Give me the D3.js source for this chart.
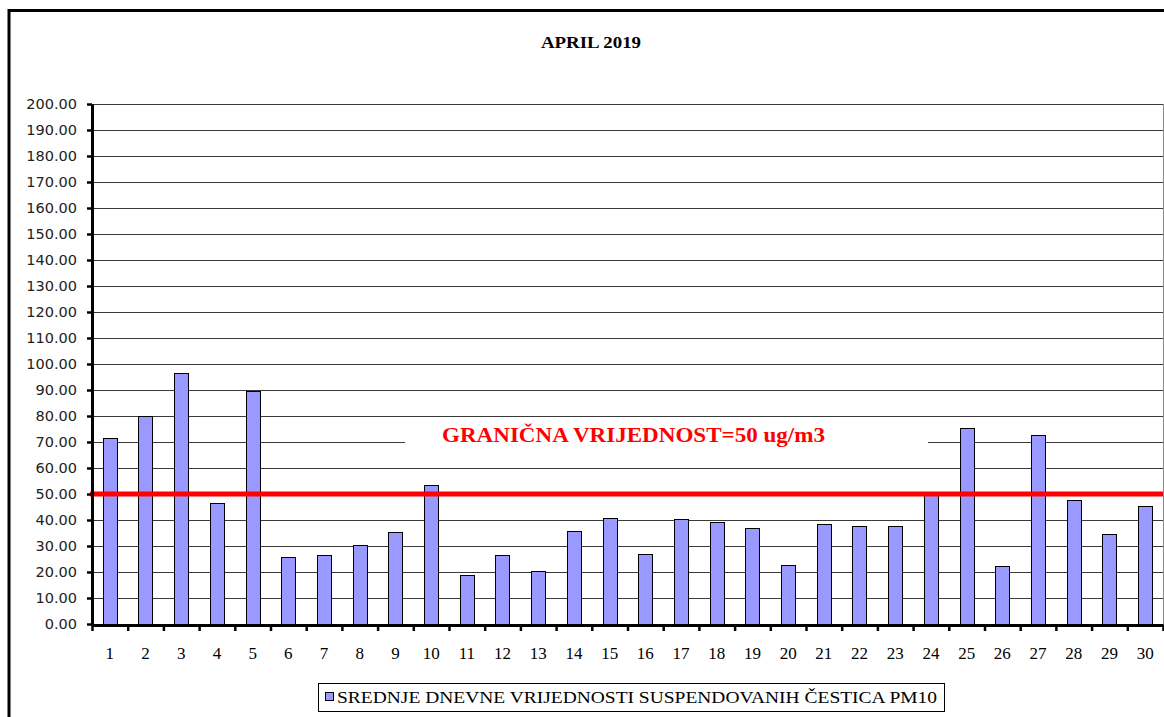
<!DOCTYPE html>
<html>
<head>
<meta charset="utf-8">
<script src="https://cdn.jsdelivr.net/npm/d3@7"></script>
<style>
  body { margin: 0; background: #fff; }
  svg { display: block; }
</style>
</head>
<body>
<div id="main"></div>
<script>
// data
var days = d3.range(1, 31).map(String);
var pm10 = [71.6, 80.0, 96.6, 46.4, 89.5, 25.6, 26.4, 30.2, 35.3, 53.4,
            19.0, 26.4, 20.4, 35.8, 40.8, 26.9, 40.3, 39.2, 37.1, 22.7,
            38.6, 37.6, 37.6, 49.8, 75.2, 22.3, 72.5, 47.8, 34.5, 45.5];
var yTicks = d3.range(0, 201, 10);
var limitValue = 50;
var titleText = "APRIL 2019";
var limitText = "GRANIČNA VRIJEDNOST=50 ug/m3";
var legendText = "SREDNJE DNEVNE VRIJEDNOSTI SUSPENDOVANIH ČESTICA PM10";

var width = 1164, height = 717;
var plot = {left: 92, right: 1163, top: 104, bottom: 624};
var serif = "'Liberation Serif', 'Times New Roman', serif";

var svg = d3.select("#main").append("svg")
    .attr("width", width)
    .attr("height", height);

// outer frame (only the left and top edges are visible)
svg.append("line").attr("x1", 9).attr("x2", 9).attr("y1", 9).attr("y2", height)
    .attr("stroke", "#000").attr("stroke-width", 3);
svg.append("line").attr("x1", 8).attr("x2", width).attr("y1", 10.5).attr("y2", 10.5)
    .attr("stroke", "#000").attr("stroke-width", 3);

svg.append("text")
    .attr("x", 591).attr("y", 48)
    .attr("text-anchor", "middle")
    .style("font-family", serif)
    .style("font-weight", "bold")
    .style("font-size", "17px")
    .attr("textLength", 100)
    .attr("lengthAdjust", "spacingAndGlyphs")
    .text(titleText);

var y = d3.scaleLinear().domain([0, 200]).range([plot.bottom, plot.top]);
var x = d3.scaleBand().domain(days).range([plot.left, plot.right])
    .paddingInner(0.6).paddingOuter(0.3);
var xEdge = d3.scaleLinear().domain([0, days.length]).range([plot.left, plot.right]);

// plot area border
svg.append("rect")
    .attr("x", plot.left + 0.5).attr("y", plot.top + 0.5)
    .attr("width", plot.right - plot.left).attr("height", plot.bottom - plot.top)
    .attr("fill", "none").attr("stroke", "#888");

// gridlines
svg.append("g").selectAll("line").data(yTicks.slice(1))
    .enter().append("line")
    .attr("x1", plot.left).attr("x2", plot.right)
    .attr("y1", d => Math.round(y(d)) + 0.5).attr("y2", d => Math.round(y(d)) + 0.5)
    .attr("stroke", "#3a3a3a").attr("stroke-width", 1);

// white box behind the limit label
svg.append("rect")
    .attr("x", 405).attr("y", 421).attr("width", 523).attr("height", 44)
    .attr("fill", "#fff");

svg.append("text")
    .attr("x", 442).attr("y", 442)
    .attr("fill", "#ff0000")
    .style("font-family", serif)
    .style("font-weight", "bold")
    .style("font-size", "21px")
    .attr("textLength", 383)
    .attr("lengthAdjust", "spacingAndGlyphs")
    .text(limitText);

// bars
svg.append("g").selectAll("rect").data(pm10)
    .enter().append("rect")
    .attr("x", (d, i) => Math.round(x(days[i])) + 0.5)
    .attr("y", d => Math.round(y(d)) + 0.5)
    .attr("width", Math.round(x.bandwidth()))
    .attr("height", d => Math.round(y(0)) - Math.round(y(d)))
    .attr("fill", "#9999ff")
    .attr("stroke", "#000")
    .attr("stroke-width", 1);

// limit line
svg.append("line")
    .attr("x1", plot.left - 2).attr("x2", plot.right)
    .attr("y1", y(limitValue)).attr("y2", y(limitValue))
    .attr("stroke", "#ff0000").attr("stroke-width", 5);

// y axis
var yAxis = svg.append("g")
    .attr("transform", "translate(" + plot.left + ",0)")
    .call(d3.axisLeft(y).tickValues(yTicks).tickFormat(d3.format(".2f"))
        .tickSize(5).tickSizeOuter(0).tickPadding(10));
yAxis.select(".domain").attr("stroke-width", 3);
yAxis.selectAll(".tick line").attr("stroke-width", 2.5);
yAxis.selectAll("text")
    .style("font-family", "'DejaVu Sans', Verdana, sans-serif")
    .style("font-size", "14.5px")
    .attr("fill", "#222");

// x axis: boundary ticks
var xTicks = svg.append("g")
    .attr("transform", "translate(0," + (plot.bottom + 1) + ")")
    .call(d3.axisBottom(xEdge).tickValues(d3.range(0, days.length + 1))
        .tickFormat("").tickSize(6).tickSizeOuter(0));
xTicks.select(".domain").attr("stroke-width", 3);
xTicks.selectAll(".tick line").attr("stroke-width", 2.5);

// x axis: day labels
var xLabels = svg.append("g")
    .attr("transform", "translate(0," + plot.bottom + ")")
    .call(d3.axisBottom(x).tickSize(0).tickPadding(23));
xLabels.select(".domain").remove();
xLabels.selectAll("text")
    .style("font-family", serif)
    .style("font-size", "17px")
    .attr("fill", "#000");

// legend
var legend = svg.append("g");
legend.append("rect")
    .attr("x", 318.5).attr("y", 683.5).attr("width", 626).attr("height", 28)
    .attr("fill", "#fff").attr("stroke", "#000");
legend.append("rect")
    .attr("x", 325.5).attr("y", 692.5).attr("width", 8).attr("height", 8)
    .attr("fill", "#9999ff").attr("stroke", "#000");
legend.append("text")
    .attr("x", 337).attr("y", 703)
    .style("font-family", serif)
    .style("font-size", "17px")
    .attr("textLength", 600)
    .attr("lengthAdjust", "spacingAndGlyphs")
    .text(legendText);
</script>
</body>
</html>
